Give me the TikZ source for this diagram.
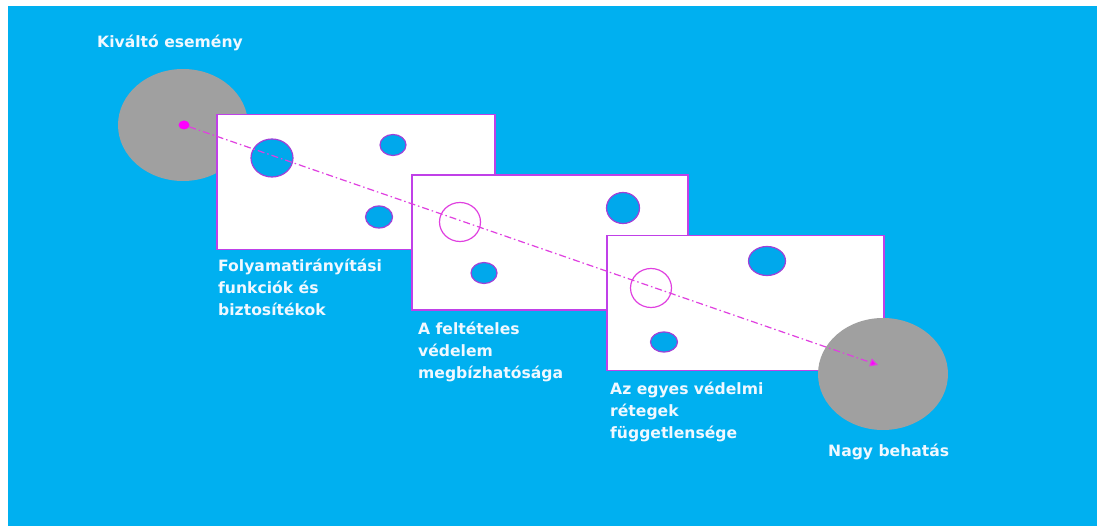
\documentclass[tikz,border=0pt]{standalone}
\usepackage{fontspec}
\setmainfont{DejaVu Sans}
\usetikzlibrary{shapes.geometric,arrows.meta}
\definecolor{bgblue}{HTML}{00B0F0}
\definecolor{hole}{HTML}{00A8EC}
\definecolor{graydisk}{HTML}{A0A0A0}
\definecolor{rectedge}{HTML}{C040E8}
\definecolor{holeedge}{HTML}{A040D8}
\definecolor{pathmag}{HTML}{E040E0}
\definecolor{dotmag}{HTML}{FF00FF}
\definecolor{lbltext}{HTML}{F0F8FF}
\begin{document}
\begin{tikzpicture}[x=1pt,y=-1pt,
  event/.style={ellipse,fill=graydisk,draw=none,inner sep=0pt,minimum width=130pt,minimum height=112pt},
  layer/.style={rectangle,fill=white,draw=rectedge,line width=1.5pt,inner sep=0pt,minimum width=#1,minimum height=135pt},
  filledhole/.style={ellipse,fill=hole,draw=holeedge,line width=1.2pt,inner sep=0pt},
  openhole/.style={ellipse,fill=none,draw=pathmag,line width=1.2pt,inner sep=0pt,minimum width=41pt,minimum height=39pt},
  lbl/.style={text=lbltext,font=\fontsize{15.6}{22}\selectfont\bfseries,align=left,inner sep=0pt,anchor=west},
  dot/.style={ellipse,fill=dotmag,inner sep=0pt,minimum width=11pt,minimum height=9pt},
  trail/.style={draw=pathmag,line width=1.2pt,dash pattern=on 7pt off 3pt on 1.5pt off 3pt,-{Triangle[length=8pt,width=8pt,fill=dotmag]}}
]
\useasboundingbox (0,0) rectangle (1097,526);
\fill[white] (0,0) rectangle (1097,526);
\fill[bgblue] (8,6) rectangle (1097,526);

% start event
\node[event] (ev1) at (183,125) {};
\node[dot] (s) at (184,125) {};
\node[lbl] (t0) at (97,43) {Kiváltó esemény};

% layer 1
\node[layer=278pt] (r1) at (356,182) {};
\node[filledhole,minimum width=42pt,minimum height=38pt] (h11) at (272,158) {};
\node[filledhole,minimum width=26pt,minimum height=21pt] (h12) at (393,145) {};
\node[filledhole,minimum width=27pt,minimum height=22pt] (h13) at (379,217) {};
\node[lbl] (t1) at (218,287) {Folyamatirányítási\\funkciók és\\biztosítékok};

% layer 2
\node[layer=276pt] (r2) at (550,242.5) {};
\node[openhole] (h21) at (460,222) {};
\node[filledhole,minimum width=33pt,minimum height=31pt] (h22) at (623,208) {};
\node[filledhole,minimum width=26pt,minimum height=21pt] (h23) at (484,273) {};
\node[lbl] (t2) at (418,352) {A feltételes\\védelem\\megbízhatósága};

% layer 3
\node[layer=277pt] (r3) at (745.5,303) {};
\node[openhole] (h31) at (651,288) {};
\node[filledhole,minimum width=37pt,minimum height=29pt] (h32) at (767,261) {};
\node[filledhole,minimum width=27pt,minimum height=20pt] (h33) at (664,342) {};
\node[lbl] (t3) at (610,412) {Az egyes védelmi\\rétegek\\függetlensége};

% end event
\node[event] (ev2) at (883,374) {};
\coordinate (e) at (878,365);
\node[lbl] (t4) at (828,452) {Nagy behatás};

% accident trajectory
\draw[trail] (s) -- (e);
\end{tikzpicture}
\end{document}
